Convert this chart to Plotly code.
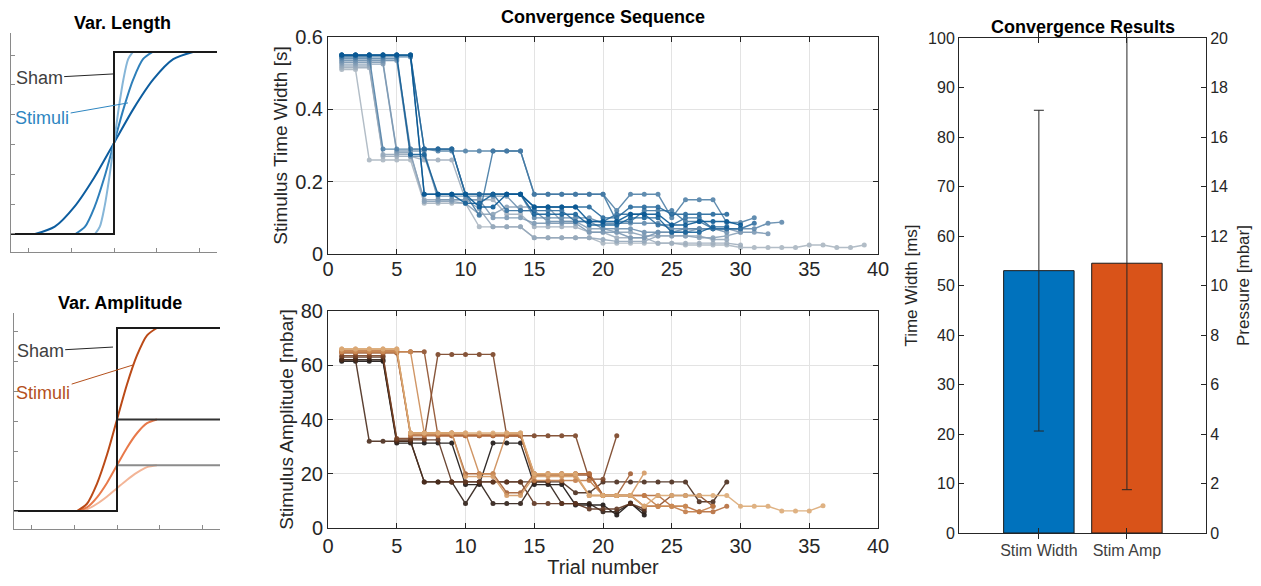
import plotly.graph_objects as go

# ---------------- data ----------------
# Left schematic panels (normalised units)
sham_x = [-2.4, 0, 2.4]
sham_full_y = [0, 1, 1]
sham_half_y = [0, 0.5, 0.5]
sham_quarter_y = [0, 0.25, 0.25]

len_dark_x = [-1.84, -1.38, -0.92, -0.46, 0, 0.46, 0.92, 1.38, 1.84]
len_mid_x = [-0.90, -0.675, -0.45, -0.225, 0, 0.225, 0.45, 0.675, 0.90]
len_light_x = [-0.44, -0.33, -0.22, -0.11, 0, 0.11, 0.22, 0.33, 0.44]
ramp_y = [0, 0.04, 0.15, 0.31, 0.5, 0.69, 0.85, 0.96, 1]

amp_x = [-0.93, -0.70, -0.465, -0.23, 0, 0.23, 0.465, 0.70, 0.93]
amp_full_y = [0, 0.04, 0.15, 0.31, 0.5, 0.69, 0.85, 0.96, 1]
amp_half_y = [0, 0.02, 0.075, 0.155, 0.25, 0.345, 0.425, 0.48, 0.5]
amp_quarter_y = [0, 0.01, 0.04, 0.08, 0.125, 0.17, 0.21, 0.24, 0.25]

# Convergence sequence: stimulus time width [s] per trial (light -> dark)
W1 = [0.51,0.51,0.26,0.26,0.26,0.26,0.14,0.14,0.14,0.14,0.075,0.075,0.075,0.075,0.045,0.045,0.045,0.045,0.045,0.03,0.03,0.03,0.03,0.03,0.03,0.025,0.025,0.025,0.025,0.018,0.018,0.018,0.018,0.018,0.025,0.025,0.018,0.018,0.025]
W2 = [0.515,0.515,0.515,0.27,0.27,0.27,0.26,0.26,0.26,0.15,0.15,0.15,0.11,0.11,0.075,0.075,0.075,0.075,0.06,0.06,0.045,0.045,0.045,0.03,0.03,0.03,0.03,0.03,0.03,0.025]
W3 = [0.52,0.52,0.52,0.275,0.275,0.275,0.15,0.15,0.15,0.15,0.125,0.075,0.075,0.075,0.045,0.045,0.045,0.045,0.045,0.04,0.035,0.035,0.035,0.05,0.05,0.05,0.05,0.04,0.04]
W4 = [0.525,0.525,0.525,0.525,0.28,0.28,0.145,0.145,0.145,0.14,0.11,0.11,0.13,0.13,0.13,0.13,0.09,0.09,0.07,0.07,0.06,0.06,0.05,0.05,0.05,0.05,0.045,0.045,0.05,0.06]
W5 = [0.53,0.53,0.53,0.53,0.285,0.285,0.285,0.15,0.15,0.15,0.15,0.1,0.1,0.1,0.085,0.085,0.085,0.085,0.06,0.06,0.06,0.045,0.045,0.06,0.06,0.06,0.07,0.07,0.07,0.06,0.06,0.056]
W6 = [0.535,0.535,0.535,0.535,0.535,0.27,0.27,0.16,0.16,0.16,0.16,0.16,0.16,0.12,0.12,0.09,0.09,0.09,0.09,0.07,0.07,0.07,0.06,0.06,0.06,0.07,0.07,0.07,0.06]
W7 = [0.54,0.54,0.54,0.54,0.54,0.29,0.29,0.29,0.29,0.165,0.165,0.165,0.165,0.165,0.1,0.1,0.1,0.1,0.1,0.085,0.085,0.085,0.085,0.085,0.07,0.07,0.07,0.07,0.07,0.07,0.07,0.085,0.088]
W8 = [0.545,0.545,0.545,0.29,0.29,0.29,0.29,0.285,0.285,0.285,0.285,0.285,0.285,0.285,0.165,0.165,0.165,0.165,0.165,0.165,0.12,0.165,0.165,0.165,0.1,0.15,0.15,0.15,0.087,0.087,0.1]
W9 = [0.545,0.545,0.545,0.545,0.545,0.545,0.29,0.29,0.29,0.165,0.107,0.285,0.285,0.285,0.165,0.165,0.165,0.165,0.165,0.165,0.09,0.09,0.12,0.12,0.12,0.09,0.09,0.07,0.07,0.07]
W10 = [0.55,0.55,0.55,0.55,0.55,0.55,0.165,0.165,0.165,0.165,0.165,0.165,0.12,0.12,0.12,0.12,0.12,0.09,0.09,0.09,0.11,0.11,0.11,0.08,0.08,0.1,0.1,0.07,0.07,0.07,0.085]
W11 = [0.55,0.55,0.55,0.55,0.55,0.55,0.29,0.29,0.29,0.165,0.165,0.165,0.165,0.165,0.13,0.13,0.13,0.13,0.13,0.1,0.1,0.13,0.13,0.13,0.11,0.11,0.11,0.11,0.11]
W12 = [0.55,0.55,0.55,0.55,0.55,0.275,0.275,0.165,0.165,0.14,0.14,0.165,0.165,0.165,0.11,0.11,0.11,0.11,0.08,0.08,0.08,0.1,0.1,0.1,0.06,0.06,0.06,0.075,0.075]
W13 = [0.55,0.55,0.55,0.55,0.55,0.55,0.165,0.165,0.165,0.165,0.13,0.13,0.165,0.165,0.13,0.13,0.13,0.13,0.09,0.09,0.09,0.11,0.11,0.11,0.08,0.08,0.09,0.09,0.09,0.08]
width_series = [W1, W2, W3, W4, W5, W6, W7, W8, W9, W10, W11, W12, W13]

# Convergence sequence: stimulus amplitude [mbar] per trial (dark -> light)
A1 = [61.5,61.5,61.5,61.5,31.3,31.3,31.3,31.3,31.3,16,16,31.3,31.3,31.3,16,16,16,8.5,8.5,8.5,4.8,9.2,4.8]
A2 = [62,62,62,62,32,32,17,17,17,9,17,9,9,9,17,17,9,9,9,6,6,9,6]
A3 = [62,62,32,32,32,32,17,17,17,17,17,17,17,17,17,17,17,13,13,17,17,17,17,17,17,17,9.7,9.7,17]
A4 = [63,63,63,63,32.5,32.5,32.5,32.5,17,17,17,17,17,17,9,9,9,9,7,7,7,9,7]
A5 = [63.5,63.5,63.5,63.5,33,33,33,64,64,64,64,64,34,34,34,34,34,34,18,18,34]
A6 = [65,65,65,65,65,65,65,34,34,34,34,34,34,34,19.5,19.5,19.5,19.5,19.5,12,12,12,8,8,12,12,12,8]
A7 = [64.5,64.5,64.5,64.5,64.5,35,35,35,35,20,20,20,13,13,20,20,20,20,20,12,12,20]
A8 = [65,65,65,65,65,34,34,34,34,34,34,34,34,34,20,20,20,20,20,12,12,12,12,12,8,8,6,6,8]
A9 = [65.5,65.5,65.5,65.5,65.5,34.5,34.5,34.5,34.5,34.5,34.5,34.5,34.5,34.5,17.5,17.5,17.5,17.5,17.5,12,12,12,12,8,8,6,6,8]
A10 = [65,65,65,65,65,65,35,35,35,35,20,20,35,35,19.5,19.5,19.5,19.5,12,12,12,12,8,8,8,8]
A11 = [66,66,66,66,66,35,35,35,35,19,19,19,12,12,19,19,19,19,12,12,12,12,20.3]
A12 = [66,66,66,66,66,35,35,35,35,35,35,35,35,35,20,20,20,20,12,12,12,12,8,12,12,12,12,12,12,8,8,8,6.3,6.3,6.3,8.2]
amp_series = [A1, A2, A3, A4, A5, A6, A7, A8, A9, A10, A11, A12]

# Convergence results
bar_labels = ["Stim Width", "Stim Amp"]
width_mean_ms = 53.0
width_sd_ms = 32.4
amp_mean_mbar = 10.9
amp_sd_mbar = 9.15

# ---------------- styles ----------------
FONT = "Liberation Sans, Arial, sans-serif"
TXT = "#262626"
top_colors = ['#aab6c1', '#a0afbe', '#95a8bb', '#89a1b8', '#7c99b4', '#6e91b0', '#6089ac',
              '#5181a8', '#4279a4', '#3370a0', '#24689c', '#156098', '#085894']
bot_colors = ['#1a1412', '#2e1f17', '#4a2c1c', '#5e3520', '#7a4325', '#8f4f2b',
              '#a35e33', '#b56d3d', '#c27c48', '#cc8b55', '#d49a64', '#dcaa76']

OFF = 8                      # page body margin
FW, FH = 1245, 570           # figure size inside the page
def dx(a, b):
    return [(a - OFF) / FW, (b - OFF) / FW]
def dy(top, bottom):
    return [1 - (bottom - OFF) / FH, 1 - (top - OFF) / FH]

fig = go.Figure()

# ---- top-left: Var. Length ----
for xs, c in [(len_dark_x, '#0d5d9f'), (len_mid_x, '#2e7fba'), (len_light_x, '#86b6d8')]:
    fig.add_trace(go.Scatter(x=xs, y=ramp_y, mode='lines', line=dict(color=c, width=2, shape='spline', smoothing=0.8),
                             xaxis='x', yaxis='y', hoverinfo='skip'))
fig.add_trace(go.Scatter(x=sham_x, y=sham_full_y, mode='lines', line=dict(color='#1a1a1a', width=2, shape='hv'),
                         xaxis='x', yaxis='y'))

# ---- bottom-left: Var. Amplitude ----
for ys, c in [(amp_quarter_y, '#f3b597'), (amp_half_y, '#e8794a'), (amp_full_y, '#bb4a17')]:
    fig.add_trace(go.Scatter(x=amp_x, y=ys, mode='lines', line=dict(color=c, width=2, shape='spline', smoothing=0.8),
                             xaxis='x2', yaxis='y2'))
for ys, c in [(sham_quarter_y, '#8c8c8c'), (sham_half_y, '#333333'), (sham_full_y, '#1a1a1a')]:
    fig.add_trace(go.Scatter(x=sham_x, y=ys, mode='lines', line=dict(color=c, width=2, shape='hv'),
                             xaxis='x2', yaxis='y2'))

# ---- middle: convergence sequences ----
for s, c in zip(width_series, top_colors):
    fig.add_trace(go.Scatter(x=list(range(1, len(s) + 1)), y=s, mode='lines+markers',
                             line=dict(color=c, width=1.4), marker=dict(color=c, size=5),
                             opacity=0.9, xaxis='x3', yaxis='y3'))
for s, c in zip(amp_series, bot_colors):
    fig.add_trace(go.Scatter(x=list(range(1, len(s) + 1)), y=s, mode='lines+markers',
                             line=dict(color=c, width=1.4), marker=dict(color=c, size=5),
                             opacity=0.9, xaxis='x4', yaxis='y4'))

# ---- right: convergence results ----
fig.add_trace(go.Bar(x=[1], y=[width_mean_ms], width=0.8, xaxis='x5', yaxis='y5',
                     marker=dict(color='#0072BD', line=dict(color='#1a1a1a', width=1)),
                     error_y=dict(type='data', array=[width_sd_ms], color='#262626', thickness=1, width=5)))
fig.add_trace(go.Bar(x=[2], y=[amp_mean_mbar], width=0.8, xaxis='x5', yaxis='y6',
                     marker=dict(color='#D95319', line=dict(color='#1a1a1a', width=1)),
                     error_y=dict(type='data', array=[amp_sd_mbar], color='#262626', thickness=1, width=5)))

schem_axis = dict(showline=True, linecolor='#8a8a8a', linewidth=1, ticks='inside', ticklen=4,
                  tickcolor='#8a8a8a', showticklabels=False, showgrid=False, zeroline=False)
mid_axis = dict(showline=True, linecolor=TXT, linewidth=1, mirror='allticks', ticks='inside', ticklen=5,
                tickcolor=TXT, showgrid=True, gridcolor='#e3e3e3', zeroline=False,
                tickfont=dict(size=20, color=TXT))

fig.update_layout(
    width=FW, height=FH, margin=dict(l=0, r=0, t=0, b=0, autoexpand=False),
    paper_bgcolor='white', plot_bgcolor='white', showlegend=False, barmode='overlay',
    font=dict(family=FONT, color=TXT),
    xaxis=dict(domain=dx(11, 217), range=[-2.4, 2.4], tickvals=[-2, -1, 0, 1, 2], anchor='y', **schem_axis),
    yaxis=dict(domain=dy(33, 252), range=[-0.099, 1.104], tick0=0, dtick=0.1637, anchor='x', **schem_axis),
    xaxis2=dict(domain=dx(14, 220), range=[-2.4, 2.4], tickvals=[-2, -1, 0, 1, 2], anchor='y2', **schem_axis),
    yaxis2=dict(domain=dy(313, 529), range=[-0.098, 1.082], tick0=0, dtick=0.1634, anchor='x2', **schem_axis),
    xaxis3=dict(domain=dx(328, 878), range=[0, 40], dtick=5, anchor='y3', ticklabelstandoff=-3, **mid_axis),
    yaxis3=dict(domain=dy(37, 254), range=[0, 0.6], dtick=0.2, anchor='x3',
                title=dict(text='Stimulus Time Width [s]', font=dict(size=19, color=TXT), standoff=2), **mid_axis),
    xaxis4=dict(domain=dx(328, 878), range=[0, 40], dtick=5, anchor='y4',
                title=dict(text='Trial number', font=dict(size=20, color=TXT), standoff=8), **mid_axis),
    yaxis4=dict(domain=dy(311, 528), range=[0, 80], dtick=20, anchor='x4',
                title=dict(text='Stimulus Amplitude [mbar]', font=dict(size=19, color=TXT), standoff=2), **mid_axis),
    xaxis5=dict(domain=dx(959, 1206), range=[0.093, 2.898], tickvals=[1, 2], ticktext=bar_labels, anchor='y5',
                showline=True, linecolor=TXT, mirror='allticks', ticks='inside', ticklen=5, tickcolor=TXT,
                showgrid=False, zeroline=False, tickfont=dict(size=16, color='#404040'), ticklabelstandoff=3),
    yaxis5=dict(domain=dy(38, 533), range=[0, 100], dtick=10, anchor='x5', side='left',
                showline=True, linecolor=TXT, ticks='inside', ticklen=5, tickcolor=TXT,
                showgrid=False, zeroline=False, tickfont=dict(size=16, color=TXT),
                title=dict(text='Time Width [ms]', font=dict(size=17, color=TXT), standoff=6)),
    yaxis6=dict(overlaying='y5', anchor='x5', side='right', range=[0, 20], dtick=2,
                showline=True, linecolor=TXT, ticks='inside', ticklen=5, tickcolor=TXT,
                showgrid=False, zeroline=False, tickfont=dict(size=16, color=TXT),
                title=dict(text='Pressure [mbar]', font=dict(size=17, color=TXT), standoff=15)),
)

titles = [("<b>Var. Length</b>", 122, 23), ("<b>Var. Amplitude</b>", 120, 303),
          ("<b>Convergence Sequence</b>", 603, 17), ("<b>Convergence Results</b>", 1083, 27)]
for t, px, py in titles:
    fig.add_annotation(text=t, x=(px - OFF) / FW, y=1 - (py - OFF) / FH, xref='paper', yref='paper',
                       showarrow=False, font=dict(size=18, color='black', family=FONT),
                       xanchor='center', yanchor='middle')

labels = [
    ('Sham', 'x', 'y', -0.023, 0.879, -1.744, 0.857, '#404040', '#262626'),
    ('Stimuli', 'x', 'y', 0.326, 0.72, -1.674, 0.637, '#2e86c1', '#2e86c1'),
    ('Sham', 'x2', 'y2', -0.093, 0.896, -1.79, 0.874, '#404040', '#262626'),
    ('Stimuli', 'x2', 'y2', 0.372, 0.798, -1.72, 0.645, '#b4501c', '#b4501c'),
]
for t, xr, yr, x, y, axx, ayy, fc, lc in labels:
    fig.add_annotation(text=t, x=x, y=y, xref=xr, yref=yr, ax=axx, ay=ayy, axref=xr, ayref=yr,
                       showarrow=True, arrowhead=0, arrowwidth=1, arrowcolor=lc,
                       font=dict(size=18, color=fc, family=FONT))

fig.write_html("out.html")
